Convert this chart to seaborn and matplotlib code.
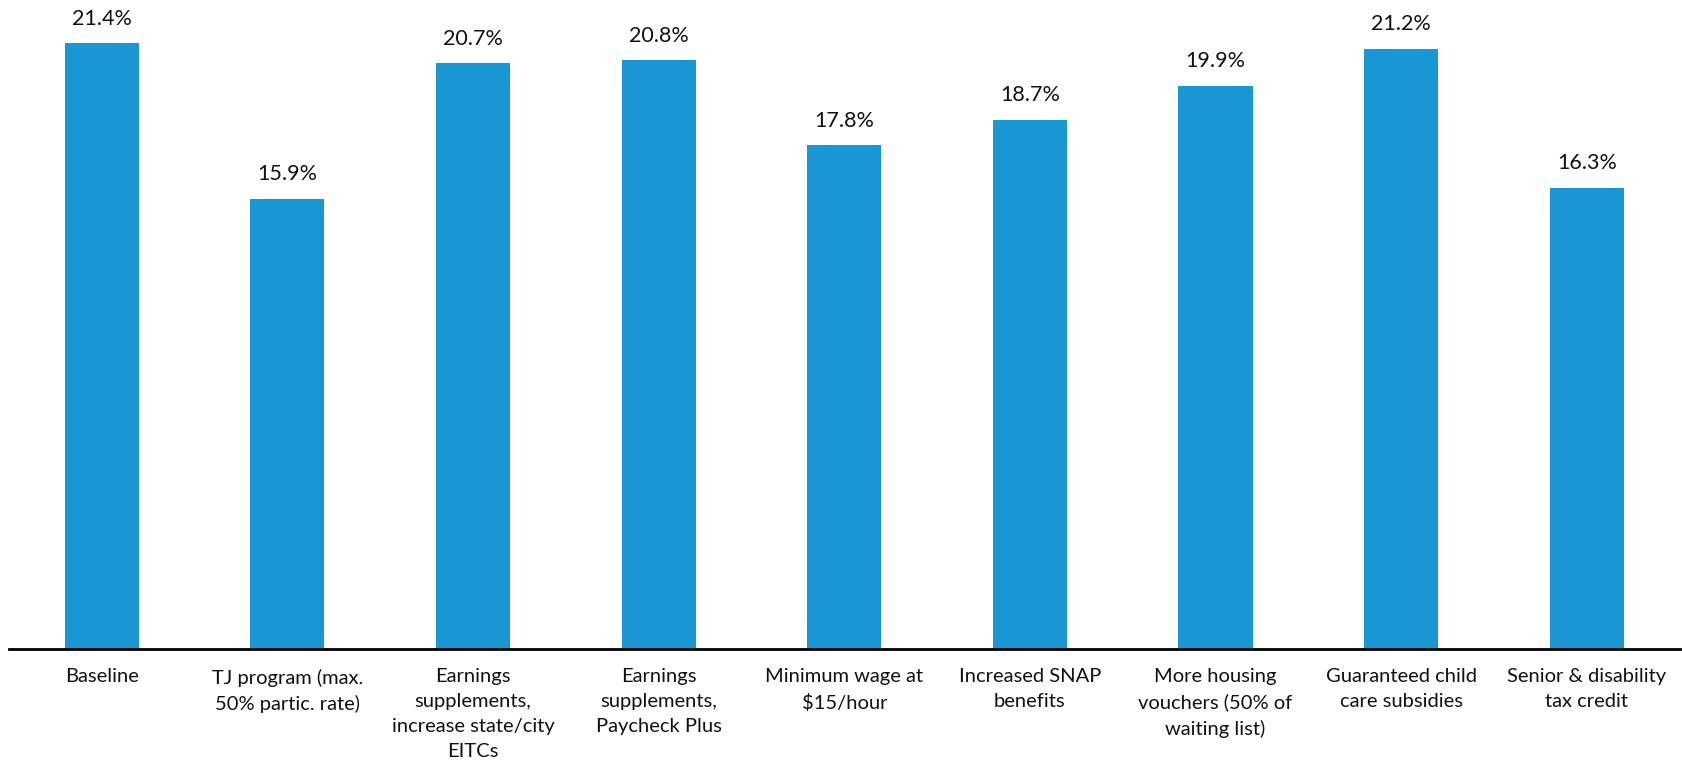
import matplotlib
matplotlib.use("Agg")
import matplotlib.pyplot as plt
import seaborn as sns
import pandas as pd

categories = [
    "Baseline",
    "TJ program (max.\n50% partic. rate)",
    "Earnings\nsupplements,\nincrease state/city\nEITCs",
    "Earnings\nsupplements,\nPaycheck Plus",
    "Minimum wage at\n\\$15/hour",
    "Increased SNAP\nbenefits",
    "More housing\nvouchers (50% of\nwaiting list)",
    "Guaranteed child\ncare subsidies",
    "Senior & disability\ntax credit",
]
rates = [21.4, 15.9, 20.7, 20.8, 17.8, 18.7, 19.9, 21.2, 16.3]

sns.set_theme(style="white")
plt.rcParams["font.family"] = ["Lato", "DejaVu Sans"]

df = pd.DataFrame({"scenario": categories, "rate": rates})

fig = plt.figure(figsize=(16.83, 7.64), dpi=100)
ax = fig.add_axes([0.0053, 0.1505, 0.9927, 0.8495])

sns.barplot(data=df, x="scenario", y="rate", color="#1897D4", saturation=1,
            width=0.4, ax=ax, edgecolor="none")

for i, v in enumerate(rates):
    ax.annotate(f"{v:.1f}%", xy=(i, v), xytext=(0, 10.5), textcoords="offset points",
                ha="center", va="bottom", fontsize=15.5, color="#111111")

ax.set_xlim(-0.5, len(categories) - 0.5)
ax.set_ylim(0, 22.93)
ax.set_xlabel("")
ax.set_ylabel("")
ax.set_yticks([])
ax.tick_params(axis="x", length=0, pad=14, labelsize=14.5, labelcolor="#111111")
for lbl in ax.get_xticklabels():
    lbl.set_linespacing(1.55)

for side in ["top", "left", "right"]:
    ax.spines[side].set_visible(False)
ax.spines["bottom"].set_color("black")
ax.spines["bottom"].set_linewidth(2)

fig.savefig("out.png", dpi=100)
